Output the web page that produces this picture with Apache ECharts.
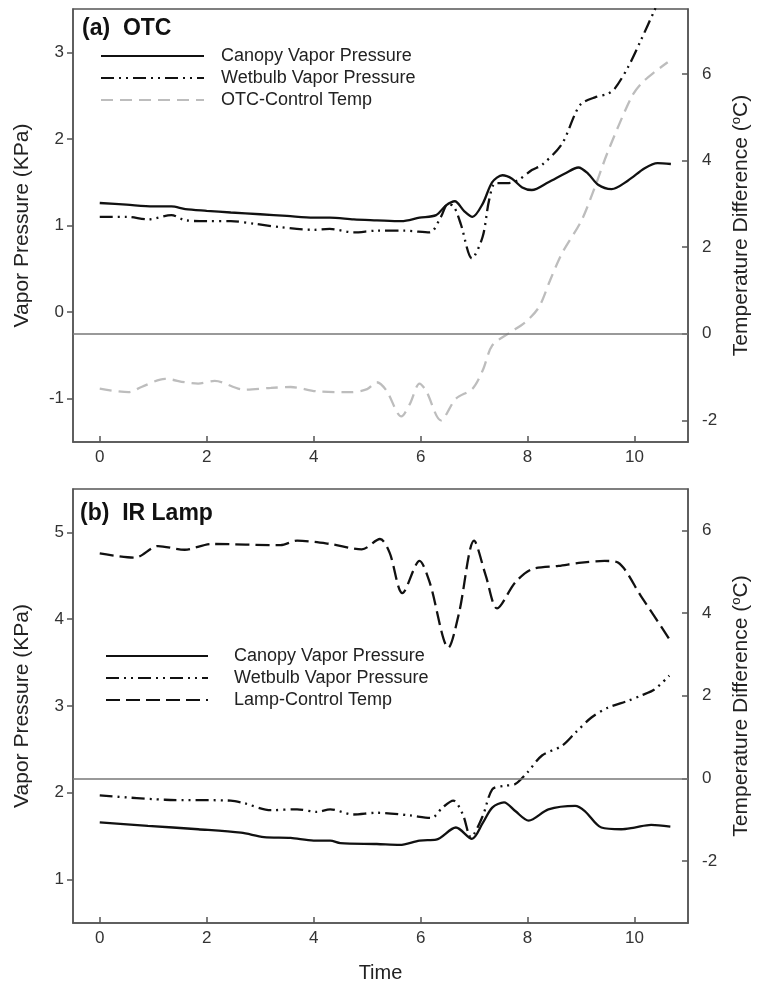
<!DOCTYPE html>
<html>
<head>
<meta charset="utf-8">
<script src="https://cdn.jsdelivr.net/npm/echarts@6/dist/echarts.min.js"></script>
<style>
  html, body { margin: 0; padding: 0; background: #fff; }
  #chart { width: 760px; height: 991px; }
</style>
</head>
<body>
<div id="chart"></div>
<script>
// x ticks shared by both panels
const timeTicks = [0, 2, 4, 6, 8, 10]
const vpTicksA = [-1, 0, 1, 2, 3]
const tdTicksA = [-2, 0, 2, 4, 6]
const vpTicksB = [1, 2, 3, 4, 5]
const tdTicksB = [-2, 0, 2, 4, 6]

// (a) OTC
const otcCanopyTime = [0, 0.5, 1.0, 1.34, 1.6, 2.0, 2.45, 3.0, 3.5, 4.0, 4.3, 4.75, 5.18, 5.64, 5.98, 6.29, 6.47, 6.64, 6.81, 6.97, 7.16, 7.34, 7.53, 7.71, 7.9, 8.08, 8.39, 8.7, 8.95, 9.13, 9.32, 9.57, 9.88, 10.19, 10.43, 10.68]
const otcCanopyVP = [1.26, 1.24, 1.22, 1.22, 1.19, 1.17, 1.15, 1.13, 1.11, 1.09, 1.09, 1.07, 1.06, 1.05, 1.09, 1.12, 1.23, 1.28, 1.17, 1.10, 1.25, 1.50, 1.58, 1.54, 1.44, 1.41, 1.50, 1.60, 1.67, 1.60, 1.47, 1.42, 1.52, 1.66, 1.72, 1.71]

const otcWetTime = [0, 0.5, 0.91, 1.34, 1.6, 2.0, 2.45, 2.9, 3.38, 4.0, 4.3, 4.75, 5.18, 5.7, 6.17, 6.38, 6.51, 6.62, 6.75, 6.96, 7.16, 7.28, 7.4, 7.65, 7.84, 8.08, 8.27, 8.64, 8.89, 9.01, 9.26, 9.5, 9.63, 9.88, 10.12, 10.37, 10.68]
const otcWetVP = [1.10, 1.10, 1.07, 1.12, 1.06, 1.05, 1.05, 1.02, 0.98, 0.95, 0.96, 0.92, 0.94, 0.94, 0.92, 1.10, 1.25, 1.22, 1.02, 0.62, 0.87, 1.29, 1.49, 1.49, 1.53, 1.64, 1.70, 1.94, 2.29, 2.41, 2.48, 2.52, 2.58, 2.83, 3.14, 3.48, 3.9]

const otcTempTime = [0, 0.54, 0.78, 1.22, 1.59, 1.84, 2.15, 2.7, 3.2, 3.57, 4.06, 4.68, 5.0, 5.18, 5.36, 5.64, 5.8, 5.98, 6.1, 6.38, 6.66, 6.97, 7.16, 7.34, 7.65, 7.96, 8.21, 8.42, 8.64, 9.01, 9.26, 9.5, 9.94, 10.12, 10.37, 10.62]
const otcTempDiff = [-1.27, -1.35, -1.23, -1.04, -1.12, -1.15, -1.09, -1.29, -1.25, -1.23, -1.33, -1.35, -1.28, -1.12, -1.31, -1.91, -1.62, -1.15, -1.31, -2.0, -1.50, -1.27, -0.85, -0.27, 0.01, 0.27, 0.61, 1.23, 1.85, 2.62, 3.39, 4.2, 5.46, 5.77, 6.04, 6.27]

// (b) IR Lamp
const lampCanopyTime = [0, 0.9, 1.84, 2.64, 3.07, 3.57, 4.0, 4.31, 4.5, 5.18, 5.61, 5.98, 6.29, 6.66, 6.96, 7.16, 7.34, 7.56, 7.77, 8.02, 8.39, 8.89, 9.07, 9.38, 9.75, 10.0, 10.31, 10.67]
const lampCanopyVP = [1.66, 1.62, 1.58, 1.54, 1.49, 1.48, 1.45, 1.45, 1.42, 1.41, 1.40, 1.45, 1.46, 1.60, 1.47, 1.65, 1.83, 1.89, 1.79, 1.68, 1.81, 1.85, 1.79, 1.60, 1.58, 1.60, 1.63, 1.61]

const lampWetTime = [0, 1.22, 2.45, 2.7, 3.2, 3.69, 4.06, 4.31, 4.74, 5.18, 5.79, 6.2, 6.41, 6.61, 6.79, 6.94, 7.16, 7.34, 7.56, 7.77, 7.99, 8.27, 8.64, 8.89, 9.2, 9.5, 9.88, 10.12, 10.37, 10.65]
const lampWetVP = [1.97, 1.92, 1.91, 1.88, 1.80, 1.81, 1.78, 1.81, 1.75, 1.77, 1.74, 1.71, 1.83, 1.91, 1.75, 1.49, 1.73, 2.04, 2.08, 2.10, 2.23, 2.43, 2.54, 2.69, 2.87, 2.98, 3.06, 3.12, 3.19, 3.35]

const lampTempTime = [0, 0.66, 1.09, 1.59, 2.08, 3.38, 3.69, 4.31, 4.9, 5.24, 5.42, 5.66, 5.98, 6.17, 6.52, 6.72, 7.0, 7.22, 7.43, 7.77, 8.08, 8.58, 9.01, 9.44, 9.69, 10.12, 10.65]
const lampTempDiff = [5.44, 5.34, 5.62, 5.53, 5.67, 5.64, 5.75, 5.67, 5.54, 5.79, 5.46, 4.48, 5.26, 4.74, 3.16, 4.01, 5.75, 4.90, 4.11, 4.74, 5.06, 5.14, 5.22, 5.26, 5.22, 4.41, 3.37]

const zip = (xs, ys) => xs.map((x, i) => [x, ys[i]])

const axisColor = '#555'
const font = 'Liberation Sans, Arial, sans-serif'
const wetDash = [13, 5, 2, 5, 2, 5]

function xAxisFor(gridIndex, withName) {
  return {
    type: 'value',
    gridIndex: gridIndex,
    min: -0.5,
    max: 11,
    splitLine: { show: false },
    axisLine: { onZero: false, lineStyle: { color: axisColor, width: 1.5 } },
    axisTick: { inside: true, length: 6, customValues: timeTicks, lineStyle: { color: axisColor, width: 1.5 } },
    axisLabel: { customValues: timeTicks, color: '#333', fontSize: 17, fontFamily: font, margin: 7 },
    name: withName ? 'Time' : '',
    nameLocation: 'middle',
    nameGap: 40,
    nameTextStyle: { color: '#222', fontSize: 20, fontFamily: font }
  }
}

function vpAxis(gridIndex, min, max, ticks) {
  return {
    type: 'value',
    gridIndex: gridIndex,
    position: 'left',
    min: min,
    max: max,
    splitLine: { show: false },
    axisLine: { show: true, onZero: false, lineStyle: { color: axisColor, width: 1.5 } },
    axisTick: { show: true, length: 6, customValues: ticks, lineStyle: { color: axisColor, width: 1.5 } },
    axisLabel: { customValues: ticks, color: '#333', fontSize: 17, fontFamily: font, margin: 9 },
    name: 'Vapor Pressure (KPa)',
    nameLocation: 'middle',
    nameRotate: 90,
    nameGap: 40,
    nameTextStyle: { color: '#222', fontSize: 21, fontFamily: font }
  }
}

function tdAxis(gridIndex, min, max, ticks) {
  return {
    type: 'value',
    gridIndex: gridIndex,
    position: 'right',
    min: min,
    max: max,
    splitLine: { show: false },
    axisLine: { show: true, onZero: false, lineStyle: { color: axisColor, width: 1.5 } },
    axisTick: { show: true, inside: true, length: 6, customValues: ticks, lineStyle: { color: axisColor, width: 1.5 } },
    axisLabel: { customValues: ticks, color: '#333', fontSize: 17, fontFamily: font, margin: 14 },
    name: 'Temperature Difference ({sup|o}C)',
    nameLocation: 'middle',
    nameRotate: 90,
    nameGap: 42,
    nameTextStyle: {
      color: '#222', fontSize: 21, fontFamily: font,
      rich: { sup: { fontSize: 13, fontFamily: font, color: '#222', verticalAlign: 'top', lineHeight: 23 } }
    }
  }
}

function line(name, data, xi, yi, style) {
  return Object.assign({
    name: name,
    type: 'line',
    xAxisIndex: xi,
    yAxisIndex: yi,
    data: data,
    symbol: 'none',
    smooth: 0.3,
    silent: true,
    animation: false
  }, style)
}

const zeroLine = {
  silent: true,
  symbol: 'none',
  label: { show: false },
  lineStyle: { color: '#777', type: 'solid', width: 1.5 },
  data: [{ yAxis: 0 }]
}

// legend shows only the line sample, no marker
const legendBase = {
  orient: 'vertical', padding: 0,
  itemHeight: 14, itemGap: 4, selectedMode: false,
  itemStyle: { color: 'transparent', borderColor: 'transparent', borderWidth: 0, opacity: 0 }
}

const chart = echarts.init(document.getElementById('chart'))
chart.setOption({
  backgroundColor: '#fff',
  animation: false,
  title: [
    { text: '(a)  OTC', left: 82, top: 17, padding: 0, textStyle: { fontSize: 23, fontWeight: 'bold', fontFamily: font, color: '#111' } },
    { text: '(b)  IR Lamp', left: 80, top: 502, padding: 0, textStyle: { fontSize: 23, fontWeight: 'bold', fontFamily: font, color: '#111' } }
  ],
  grid: [
    { left: 73, right: 67, top: 9, height: 433, show: true, borderColor: axisColor, borderWidth: 1.5, backgroundColor: 'transparent' },
    { left: 73, right: 67, top: 489, height: 434, show: true, borderColor: axisColor, borderWidth: 1.5, backgroundColor: 'transparent' }
  ],
  legend: [
    Object.assign({}, legendBase, {
      data: ['Canopy Vapor Pressure', 'Wetbulb Vapor Pressure', 'OTC-Control Temp'],
      left: 100, top: 47, itemWidth: 103,
      textStyle: { fontSize: 18, fontFamily: font, color: '#222', lineHeight: 14, padding: [0, 0, 0, 12] }
    }),
    Object.assign({}, legendBase, {
      data: ['Canopy Vapor Pressure', 'Wetbulb Vapor Pressure', 'Lamp-Control Temp'],
      left: 105, top: 647, itemWidth: 102,
      textStyle: { fontSize: 18, fontFamily: font, color: '#222', lineHeight: 14, padding: [0, 0, 0, 21] }
    })
  ],
  xAxis: [xAxisFor(0, false), xAxisFor(1, true)],
  yAxis: [
    vpAxis(0, -1.5, 3.5, vpTicksA),
    tdAxis(0, -2.5, 7.5, tdTicksA),
    vpAxis(1, 0.5, 5.5, vpTicksB),
    tdAxis(1, -3.5, 7, tdTicksB)
  ],
  series: [
    line('OTC-Control Temp', zip(otcTempTime, otcTempDiff), 0, 1, {
      lineStyle: { color: '#bdbdbd', width: 2.3, type: [12, 7] }, itemStyle: { color: '#bdbdbd' },
      markLine: zeroLine
    }),
    line('Canopy Vapor Pressure', zip(otcCanopyTime, otcCanopyVP), 0, 0, {
      lineStyle: { color: '#111', width: 2.3 }, itemStyle: { color: '#111' }
    }),
    line('Wetbulb Vapor Pressure', zip(otcWetTime, otcWetVP), 0, 0, {
      lineStyle: { color: '#111', width: 2.3, type: wetDash }, itemStyle: { color: '#111' }
    }),
    line('Lamp-Control Temp', zip(lampTempTime, lampTempDiff), 1, 3, {
      lineStyle: { color: '#111', width: 2.3, type: [14, 6] }, itemStyle: { color: '#111' },
      markLine: zeroLine
    }),
    line('Canopy Vapor Pressure', zip(lampCanopyTime, lampCanopyVP), 1, 2, {
      lineStyle: { color: '#111', width: 2.3 }, itemStyle: { color: '#111' }
    }),
    line('Wetbulb Vapor Pressure', zip(lampWetTime, lampWetVP), 1, 2, {
      lineStyle: { color: '#111', width: 2.3, type: wetDash }, itemStyle: { color: '#111' }
    })
  ]
})
</script>
</body>
</html>
